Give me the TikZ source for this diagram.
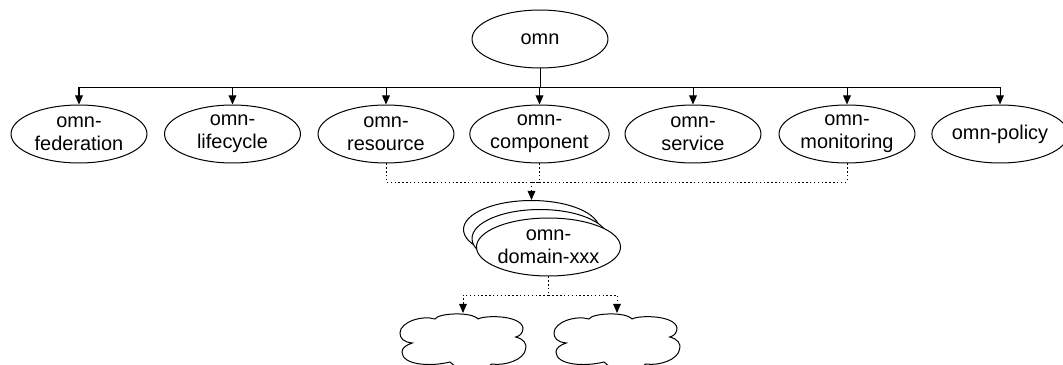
\documentclass[tikz,border=0pt]{standalone}
\usepackage{fontspec}
\setmainfont{Liberation Sans}
\usetikzlibrary{arrows.meta,shapes.geometric}

\tikzset{
	modbox/.style={draw,fill=white,ellipse,line width=0.57pt,minimum width=2.72cm,minimum height=1.16cm,inner sep=0pt,align=center,font=\fontsize{11.34}{13}\selectfont},
	flow/.style={line width=0.57pt,-{Triangle[length=5.2pt,width=4.4pt]}},
	dep/.style={line width=0.57pt,dash pattern=on 0.8pt off 1.4pt,-{Triangle[length=5.2pt,width=4.4pt]}},
	deplink/.style={line width=0.57pt,dash pattern=on 0.8pt off 1.4pt}
}

\begin{document}
\begin{tikzpicture}[x=0.02cm,y=-0.02cm]
	\clip (0,0) rectangle (1063,365);

	\node[modbox] (omn) at (540,39) {omn};

	\foreach \n/\x/\t in {federation/79/{omn-\\federation},lifecycle/232.5/{omn-\\lifecycle},resource/386/{omn-\\resource},component/539.5/{omn-\\component},service/693/{omn-\\service},monitoring/847/{omn-\\monitoring},policy/1000/{omn-policy}}
	{
		\node[modbox] (\n) at (\x,134) {\t};
		\draw[flow] (omn.south) |- ++(0,19) -| (\n.north);
	}

	% stacked domains, back to front
	\node[modbox] (domainA) at (531.5,229.5) {\phantom{x}};
	\node[modbox] (domainB) at (540,238.5) {\phantom{x}};
	\node[modbox] (domainC) at (548.5,247) {omn-\\domain-xxx};

	\coordinate (cloudA) at (463,313);
	\coordinate (cloudB) at (617,313);
	\coordinate (joinTop) at (531.5,182);
	\coordinate (joinBottom) at (548.5,295);

	\draw[deplink] (resource.south) |- (joinTop);
	\draw[deplink] (component.south) |- (joinTop);
	\draw[deplink] (monitoring.south) |- (joinTop);
	\draw[dep] (joinTop) -- (domainA.north);

	\draw[deplink] (domainC.south) -- (joinBottom);
	\draw[dep] (joinBottom) -| (cloudA);
	\draw[dep] (joinBottom) -| (cloudB);

	\foreach \c in {400,554}
	{
		\draw[line width=0.57pt,shift={(\c,0)}] (35,319)
			.. controls (38,313) and (72,311.5) .. (78,319)
			.. controls (85,315) and (121,315) .. (123,328)
			.. controls (123,333) and (120,336) .. (115.7,337)
			.. controls (124,339) and (127,344) .. (125.7,349)
			.. controls (124,360) and (105,366) .. (91.7,364)
			.. controls (85,372) and (58,372) .. (50,362)
			.. controls (30,367) and (2,365) .. (2,352)
			.. controls (2,348) and (6,345) .. (12.3,343)
			.. controls (3,342) and (0,338) .. (0,333)
			.. controls (0,322) and (22,315) .. (35,319)
			-- cycle;
	}
\end{tikzpicture}
\end{document}
